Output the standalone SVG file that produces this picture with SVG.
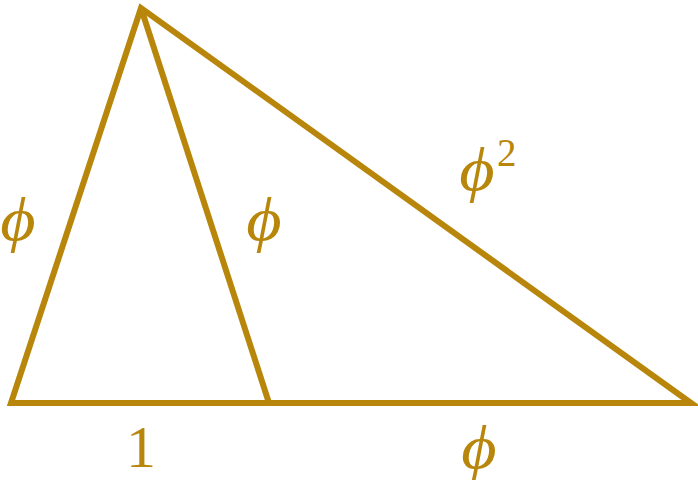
<svg xmlns="http://www.w3.org/2000/svg" width="698" height="480" viewBox="0 0 698 480">
<style>
.e{fill:none;stroke:#B8860B;stroke-width:6;stroke-linejoin:miter;stroke-miterlimit:20}
.t{fill:#B8860B;font-family:"Liberation Serif",serif;font-style:italic;font-size:61px}
.n{fill:#B8860B;font-family:"Liberation Serif",serif;font-size:60px}
.s{fill:#B8860B;font-family:"Liberation Serif",serif;font-size:39px}
</style>
<g id="connectors">
<polygon class="e" points="141,8 11,403 691,403"/>
<line class="e" x1="141" y1="8" x2="269" y2="403"/>
</g>
<g id="label-left"><text class="t" transform="translate(18,240) scale(1.12,1)" text-anchor="middle">ϕ</text></g>
<g id="label-mid"><text class="t" transform="translate(264,240) scale(1.12,1)" text-anchor="middle">ϕ</text></g>
<g id="label-hyp"><text class="t" transform="translate(477,190) scale(1.12,1)" text-anchor="middle">ϕ</text><text class="s" x="497" y="166">2</text></g>
<g id="label-one"><text class="n" x="141" y="467" text-anchor="middle">1</text></g>
<g id="label-bottom"><text class="t" transform="translate(479,468) scale(1.12,1)" text-anchor="middle">ϕ</text></g>
</svg>
